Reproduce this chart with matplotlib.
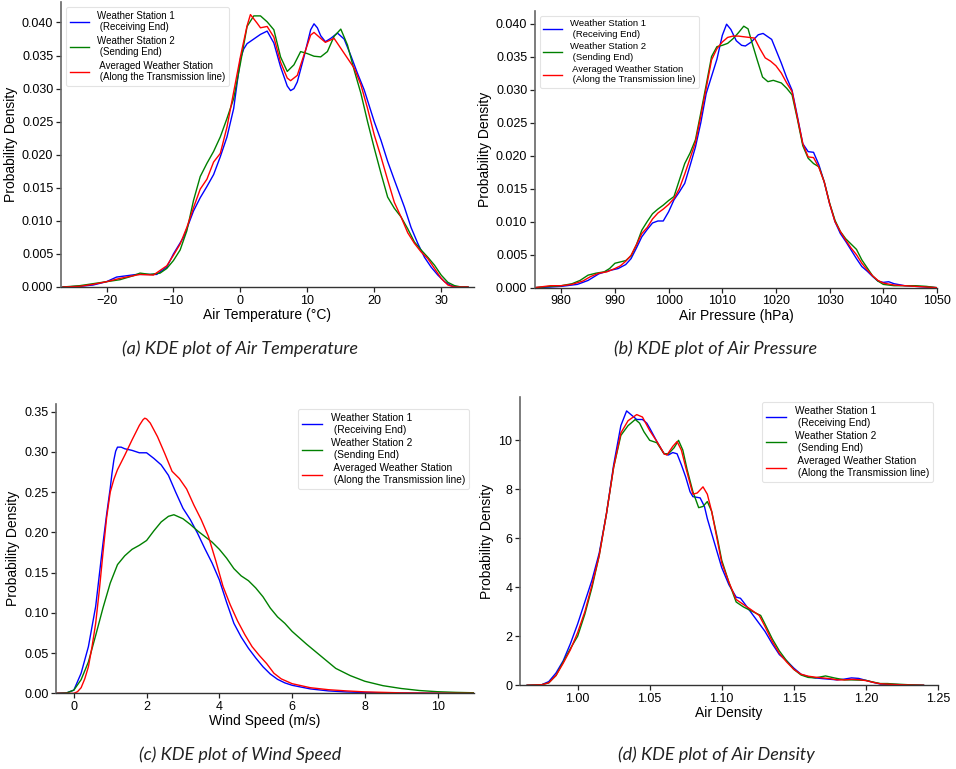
import matplotlib
matplotlib.use('Agg')
import matplotlib.pyplot as plt

plt.rcParams['font.family'] = ['Liberation Sans', 'DejaVu Sans']

# ---- (a) Air temperature ----
temp_ws1_x = [-26.5, -24, -22, -20, -18.5, -17, -15.5, -14, -12.5, -11, -10, -8.5, -7, -6, -5, -4, -3, -2, -1, 0,
              0.5, 1, 2, 3, 4, 5, 6, 7, 7.5, 8, 8.5, 9.5, 10.5, 11, 11.5, 12, 12.7, 13.5, 14.5, 15.5, 16.5, 17.5,
              18.5, 20, 21, 22, 23, 24.5, 25.5, 26.5, 27.5, 28.5, 29.5, 30.5, 31.5, 32.5, 34]
temp_ws1_y = [0, 0.0001, 0.0003, 0.0008, 0.0015, 0.0017, 0.0019, 0.0019, 0.0019, 0.003, 0.005, 0.0075, 0.0115,
              0.0135, 0.0152, 0.017, 0.0197, 0.0227, 0.027, 0.0345, 0.036, 0.0368, 0.0375, 0.0382, 0.0387, 0.0369,
              0.0333, 0.0304, 0.0297, 0.03, 0.031, 0.0348, 0.0389, 0.0398, 0.0392, 0.038, 0.0371, 0.0376, 0.0384,
              0.0375, 0.035, 0.0323, 0.0298, 0.025, 0.0222, 0.019, 0.0162, 0.0121, 0.009, 0.0066, 0.0045, 0.003,
              0.0018, 0.0008, 0.0002, 0, 0]
temp_ws2_x = [-26.5, -24, -22, -20, -18, -16, -15, -13.5, -12, -11, -10, -9, -8, -7, -6, -5, -4, -3, -2, -1,
              0, 1, 2, 3, 4, 5, 6, 7, 8, 9, 10, 11, 12, 13, 14, 15, 16, 17, 18, 19, 20, 21, 22, 23, 24, 25, 26, 27,
              28, 29, 30, 31, 32, 33, 34]
temp_ws2_y = [0, 0.0002, 0.0005, 0.0008, 0.0011, 0.0017, 0.0021, 0.0019, 0.0021, 0.0028, 0.004, 0.0056, 0.0085,
              0.0131, 0.0167, 0.0187, 0.0205, 0.0227, 0.0255, 0.0285, 0.0338, 0.0394, 0.041, 0.041, 0.0401, 0.0389,
              0.0348, 0.0326, 0.0336, 0.0356, 0.0353, 0.0349, 0.0348, 0.0356, 0.0379, 0.039, 0.0366, 0.0328, 0.0293,
              0.025, 0.021, 0.0172, 0.0136, 0.0119, 0.0106, 0.0088, 0.0068, 0.0056, 0.0045, 0.0033, 0.0018, 0.0007,
              0.0002, 0, 0]
temp_avg_x = [-26.5, -24, -22, -20, -18, -16, -15, -13, -11, -10, -9, -8, -7, -6, -5, -4, -3, -2, -1, 0, 1, 1.5,
              2.5, 3, 4, 5, 6, 7, 7.5, 8.5, 9.5, 10.5, 11, 12, 12.7, 14, 15, 16, 17, 18, 19, 20, 21, 22, 23, 24, 25,
              26, 27, 28, 29, 30, 31, 32, 34]
temp_avg_y = [0, 0.0001, 0.0004, 0.0008, 0.0013, 0.0017, 0.0019, 0.0018, 0.0032, 0.0048, 0.0065, 0.009, 0.012,
              0.0148, 0.0163, 0.0189, 0.0202, 0.0242, 0.0295, 0.0348, 0.0395, 0.0412, 0.0399, 0.0392, 0.0394, 0.0378,
              0.034, 0.0316, 0.0312, 0.032, 0.0351, 0.0381, 0.0385, 0.0376, 0.037, 0.0376, 0.0361, 0.0346, 0.0331,
              0.0306, 0.027, 0.023, 0.0197, 0.0162, 0.0128, 0.0106, 0.0082, 0.0066, 0.0053, 0.0043, 0.0028, 0.0013,
              0.0003, 0, 0]

# ---- (b) Air pressure ----
pres_ws1_x = [975, 978, 980, 983, 985, 987, 989, 990.6, 992, 993, 994, 995, 996, 997, 998, 999, 1000, 1001, 1002,
              1003, 1004, 1005, 1006, 1007, 1008, 1009, 1010, 1010.8, 1011.6, 1012.6, 1013.6, 1014.3, 1015.4, 1016.7,
              1017.6, 1019.2, 1020, 1021, 1022, 1023, 1024, 1025, 1026, 1027, 1028, 1029, 1030, 1031, 1032, 1033,
              1034, 1035, 1036, 1037, 1038, 1039, 1040, 1041, 1042, 1044, 1046, 1048, 1050]
pres_ws1_y = [0, 0.0001, 0.0002, 0.0005, 0.0011, 0.0021, 0.0026, 0.0029, 0.0035, 0.0044, 0.006, 0.0077, 0.0088,
              0.0098, 0.0101, 0.0101, 0.0115, 0.0133, 0.0145, 0.0158, 0.0185, 0.0213, 0.025, 0.0294, 0.032, 0.0346,
              0.0382, 0.0399, 0.0391, 0.0374, 0.0367, 0.0366, 0.0372, 0.0383, 0.0385, 0.0376, 0.036, 0.034, 0.0318,
              0.0299, 0.0259, 0.0218, 0.0206, 0.0205, 0.0186, 0.016, 0.0127, 0.01, 0.0082, 0.007, 0.0057, 0.0044,
              0.0032, 0.0025, 0.0017, 0.001, 0.0008, 0.0009, 0.0006, 0.0003, 0.0002, 0.0001, 0]
pres_ws2_x = [975, 978, 980, 982, 983.5, 985, 986.5, 988, 989, 990, 991, 992, 993, 994, 995, 996, 997, 998, 999,
              1000, 1001, 1002, 1003, 1004, 1005, 1006, 1007, 1008, 1009, 1010, 1011, 1012, 1013, 1014, 1014.8,
              1015.5, 1016.5, 1017.5, 1018.5, 1019.5, 1021, 1022, 1023, 1024, 1025, 1026, 1027, 1028, 1029, 1030,
              1031, 1032, 1033, 1034, 1035, 1036, 1037, 1038, 1039, 1040, 1042, 1044, 1046, 1048, 1050]
pres_ws2_y = [0, 0.0002, 0.0003, 0.0006, 0.0011, 0.0019, 0.0022, 0.0024, 0.0029, 0.0037, 0.0039, 0.0041, 0.0048,
              0.0065, 0.0087, 0.01, 0.0112, 0.0119, 0.0125, 0.0132, 0.0138, 0.0163, 0.0188, 0.0204, 0.0224, 0.0265,
              0.0307, 0.035, 0.0365, 0.0367, 0.037, 0.0377, 0.0386, 0.0396, 0.0392, 0.0372, 0.0345, 0.0319, 0.0312,
              0.0314, 0.031, 0.0302, 0.0292, 0.0255, 0.0215, 0.0196, 0.0188, 0.0183, 0.016, 0.0128, 0.0102, 0.0085,
              0.0074, 0.0066, 0.0058, 0.0042, 0.003, 0.0018, 0.001, 0.0005, 0.0003, 0.0003, 0.0003, 0.0002, 0]
pres_avg_x = [975, 978, 980, 982, 984, 985.5, 987, 988.5, 990, 991, 992, 993, 994, 995, 996, 997, 998, 999, 1000,
              1001, 1002, 1003, 1004, 1005, 1006, 1007, 1008, 1009, 1010, 1011, 1012, 1013, 1014, 1015, 1016, 1017,
              1018, 1019, 1020, 1021, 1022, 1023, 1024, 1025, 1026, 1027, 1028, 1029, 1030, 1031, 1032, 1033, 1034,
              1035, 1036, 1037, 1038, 1039, 1040, 1042, 1044, 1046, 1048, 1050]
pres_avg_y = [0, 0.0003, 0.0003, 0.0005, 0.001, 0.0017, 0.0022, 0.0024, 0.0029, 0.0033, 0.004, 0.0049, 0.0065,
              0.0082, 0.0091, 0.0104, 0.0113, 0.0119, 0.0126, 0.0135, 0.015, 0.0172, 0.0196, 0.022, 0.026, 0.0302,
              0.0345, 0.0362, 0.0372, 0.0379, 0.0381, 0.0381, 0.038, 0.0379, 0.0378, 0.0362, 0.0348, 0.0343, 0.0336,
              0.0325, 0.031, 0.0297, 0.0257, 0.0218, 0.0198, 0.0197, 0.0182, 0.016, 0.0127, 0.01, 0.0085, 0.0072,
              0.006, 0.005, 0.0037, 0.0027, 0.0018, 0.0011, 0.0007, 0.0004, 0.0003, 0.0002, 0.0001, 0]

# ---- (c) Wind speed ----
wind_ws1_x = [-0.5, -0.2, 0, 0.2, 0.4, 0.6, 0.8, 0.9, 1.0, 1.05, 1.1, 1.15, 1.2, 1.3, 1.4, 1.6, 1.8, 2.0, 2.2,
              2.4, 2.6, 2.8, 3.0, 3.2, 3.4, 3.6, 3.8, 4.0, 4.2, 4.4, 4.6, 4.8, 5.0, 5.2, 5.4, 5.6, 5.8, 6.0, 6.5,
              7.0, 7.5, 8.0, 9.0, 10.0, 11.0]
wind_ws1_y = [0, 0.0005, 0.004, 0.025, 0.058, 0.108, 0.186, 0.222, 0.255, 0.274, 0.29, 0.301, 0.306, 0.306, 0.304,
              0.302, 0.299, 0.299, 0.292, 0.284, 0.271, 0.25, 0.23, 0.216, 0.199, 0.18, 0.162, 0.141, 0.113, 0.087,
              0.07, 0.056, 0.044, 0.033, 0.024, 0.0174, 0.013, 0.01, 0.0055, 0.003, 0.0017, 0.001, 0.0003, 0.0001, 0]
wind_ws2_x = [-0.5, -0.2, 0, 0.2, 0.4, 0.6, 0.8, 1.0, 1.2, 1.4, 1.6, 1.8, 2.0, 2.2, 2.4, 2.6, 2.75, 3.0, 3.2, 3.4,
              3.6, 3.8, 4.0, 4.2, 4.4, 4.6, 4.8, 5.0, 5.2, 5.4, 5.6, 5.8, 6.0, 6.4, 6.8, 7.2, 7.6, 8.0, 8.5, 9.0,
              9.5, 10.0, 10.5, 11.0]
wind_ws2_y = [0, 0.0005, 0.004, 0.017, 0.039, 0.072, 0.106, 0.137, 0.16, 0.171, 0.179, 0.184, 0.19, 0.202, 0.213,
              0.22, 0.222, 0.217, 0.21, 0.202, 0.195, 0.188, 0.179, 0.168, 0.155, 0.146, 0.14, 0.131, 0.12, 0.106,
              0.095, 0.087, 0.077, 0.061, 0.046, 0.031, 0.022, 0.015, 0.0095, 0.006, 0.0035, 0.002, 0.0012, 0.0007]
wind_avg_x = [-0.5, 0, 0.1, 0.2, 0.3, 0.4, 0.5, 0.6, 0.7, 0.8, 0.9, 1.0, 1.1, 1.2, 1.4, 1.6, 1.8, 1.9, 1.95, 2.0,
              2.1, 2.3, 2.5, 2.7, 2.9, 3.1, 3.3, 3.5, 3.7, 3.9, 4.1, 4.3, 4.5, 4.7, 4.9, 5.1, 5.3, 5.5, 5.7, 6.0,
              6.5, 7.0, 7.5, 8.0, 9.0, 10.0, 11.0]
wind_avg_y = [0, 0, 0.002, 0.007, 0.018, 0.033, 0.058, 0.087, 0.128, 0.174, 0.218, 0.25, 0.266, 0.278, 0.296,
              0.315, 0.333, 0.34, 0.342, 0.341, 0.336, 0.319, 0.298, 0.276, 0.267, 0.254, 0.234, 0.216, 0.195, 0.165,
              0.133, 0.11, 0.09, 0.073, 0.058, 0.047, 0.037, 0.025, 0.018, 0.012, 0.007, 0.0045, 0.003, 0.0018,
              0.0006, 0.0002, 0]

# ---- (d) Air density ----
dens_ws1_x = [0.965, 0.975, 0.98, 0.985, 0.99, 0.995, 1.0, 1.005, 1.01, 1.015, 1.02, 1.025, 1.03, 1.034, 1.038,
              1.041, 1.045, 1.048, 1.05, 1.055, 1.06, 1.063, 1.066, 1.069, 1.072, 1.075, 1.078, 1.08, 1.085, 1.088,
              1.09, 1.095, 1.1, 1.105, 1.11, 1.113, 1.115, 1.12, 1.125, 1.13, 1.135, 1.14, 1.145, 1.15, 1.155, 1.16,
              1.165, 1.17, 1.18, 1.185, 1.19, 1.195, 1.2, 1.205, 1.21, 1.22, 1.23, 1.24]
dens_ws1_y = [0, 0.02, 0.15, 0.5, 1.0, 1.7, 2.5, 3.4, 4.3, 5.4, 7.0, 9.0, 10.6, 11.2, 11.0, 10.85, 10.85, 10.7,
              10.5, 9.95, 9.45, 9.4, 9.5, 9.45, 9.0, 8.5, 7.9, 7.7, 7.65, 7.3, 6.8, 5.8, 4.8, 4.1, 3.6, 3.55, 3.4,
              3.0, 2.6, 2.2, 1.7, 1.25, 1.0, 0.7, 0.45, 0.35, 0.3, 0.27, 0.22, 0.25, 0.3, 0.28, 0.2, 0.12, 0.05,
              0.03, 0.01, 0]
dens_ws2_x = [0.965, 0.975, 0.98, 0.985, 0.99, 0.995, 1.0, 1.005, 1.01, 1.015, 1.02, 1.025, 1.03, 1.035, 1.04,
              1.043, 1.046, 1.05, 1.055, 1.06, 1.063, 1.067, 1.07, 1.073, 1.076, 1.08, 1.084, 1.087, 1.09, 1.093,
              1.097, 1.1, 1.105, 1.11, 1.115, 1.12, 1.127, 1.13, 1.135, 1.14, 1.145, 1.15, 1.155, 1.16, 1.165,
              1.172, 1.178, 1.185, 1.19, 1.2, 1.205, 1.21, 1.215, 1.22, 1.23, 1.24]
dens_ws2_y = [0, 0.02, 0.1, 0.4, 0.95, 1.5, 2.0, 2.9, 4.0, 5.3, 7.0, 8.9, 10.2, 10.6, 10.85, 10.7, 10.35, 10.0,
              9.9, 9.45, 9.45, 9.7, 10.0, 9.6, 8.8, 7.9, 7.25, 7.3, 7.5, 7.1, 6.0, 5.1, 4.2, 3.4, 3.2, 3.05, 2.85,
              2.5, 1.9, 1.4, 1.0, 0.65, 0.42, 0.32, 0.3, 0.38, 0.3, 0.22, 0.22, 0.2, 0.13, 0.07, 0.07, 0.05, 0.02, 0]
dens_avg_x = [0.965, 0.975, 0.98, 0.985, 0.99, 0.995, 1.0, 1.005, 1.01, 1.015, 1.02, 1.025, 1.03, 1.035, 1.041,
              1.045, 1.05, 1.055, 1.06, 1.062, 1.066, 1.069, 1.072, 1.075, 1.08, 1.083, 1.087, 1.09, 1.093, 1.096,
              1.1, 1.105, 1.11, 1.115, 1.12, 1.126, 1.13, 1.135, 1.14, 1.145, 1.15, 1.155, 1.16, 1.165, 1.17, 1.175,
              1.18, 1.185, 1.19, 1.195, 1.2, 1.205, 1.21, 1.22, 1.23, 1.24]
dens_avg_y = [0, 0.02, 0.1, 0.4, 0.9, 1.45, 2.15, 3.0, 4.1, 5.3, 7.0, 8.9, 10.3, 10.8, 11.05, 10.95, 10.4, 9.95,
              9.45, 9.4, 9.75, 9.95, 9.6, 8.9, 7.8, 7.85, 8.1, 7.8, 7.1, 6.2, 5.0, 4.2, 3.5, 3.3, 3.1, 2.85, 2.4,
              1.8, 1.3, 0.95, 0.65, 0.45, 0.37, 0.33, 0.3, 0.27, 0.22, 0.22, 0.24, 0.23, 0.19, 0.12, 0.06, 0.03,
              0.01, 0]

labels = ['Weather Station 1\n (Receiving End)',
          'Weather Station 2\n (Sending End)',
          ' Averaged Weather Station\n (Along the Transmission line)']
colors = ['blue', 'green', 'red']

fig = plt.figure(figsize=(9.56, 7.69), dpi=100)

panels = [
    # rect, curves, xlabel, xlim, ylim, xticks, yticks, y format, legend loc, legend size, caption, caption pos
    ([0.0638, 0.6268, 0.432, 0.3706],
     [(temp_ws1_x, temp_ws1_y), (temp_ws2_x, temp_ws2_y), (temp_avg_x, temp_avg_y)],
     'Air Temperature (°C)', (-26.8, 34.9), (0, 0.0431), [-20, -10, 0, 10, 20, 30],
     [0, 0.005, 0.01, 0.015, 0.02, 0.025, 0.03, 0.035, 0.04], '{:.3f}', 'upper left', 7,
     '(a) KDE plot of Air Temperature', (240, 349)),
    ([0.5596, 0.6259, 0.4205, 0.3598],
     [(pres_ws1_x, pres_ws1_y), (pres_ws2_x, pres_ws2_y), (pres_avg_x, pres_avg_y)],
     'Air Pressure (hPa)', (975.1, 1050), (0, 0.0419), [980, 990, 1000, 1010, 1020, 1030, 1040, 1050],
     [0, 0.005, 0.01, 0.015, 0.02, 0.025, 0.03, 0.035, 0.04], '{:.3f}', 'upper left', 6.8,
     '(b) KDE plot of Air Pressure', (716, 349)),
    ([0.0586, 0.0984, 0.4372, 0.3762],
     [(wind_ws1_x, wind_ws1_y), (wind_ws2_x, wind_ws2_y), (wind_avg_x, wind_avg_y)],
     'Wind Speed (m/s)', (-0.49, 11.0), (0, 0.3596), [0, 2, 4, 6, 8, 10],
     [0, 0.05, 0.1, 0.15, 0.2, 0.25, 0.3, 0.35], '{:.2f}', 'upper right', 7.3,
     '(c) KDE plot of Wind Speed', (240, 755)),
    ([0.5439, 0.1089, 0.4372, 0.3749],
     [(dens_ws1_x, dens_ws1_y), (dens_ws2_x, dens_ws2_y), (dens_avg_x, dens_avg_y)],
     'Air Density', (0.96, 1.25), (0, 11.77), [1.00, 1.05, 1.10, 1.15, 1.20, 1.25],
     [0, 2, 4, 6, 8, 10], '{:g}', 'upper right', 7.3,
     '(d) KDE plot of Air Density', (716, 755)),
]

for i, (rect, curves, xlabel, xlim, ylim, xticks, yticks, yfmt, loc, lsize, caption, cpos) in enumerate(panels):
    ax = fig.add_axes(rect)
    for (xs, ys), c, lab in zip(curves, colors, labels):
        ax.plot(xs, ys, color=c, lw=1.0, label=lab, solid_joinstyle='round')
    ax.set_xlim(*xlim)
    ax.set_ylim(*ylim)
    ax.set_xticks(xticks)
    if i == 3:
        ax.set_xticklabels(['{:.2f}'.format(t) for t in xticks])
    else:
        ax.set_xticklabels([str(t).replace('-', '\u2212') for t in xticks])
    ax.set_yticks(yticks)
    ax.set_yticklabels([yfmt.format(t) for t in yticks])
    ax.tick_params(labelsize=9, length=3.5, width=0.9, color='#222222', direction='out', pad=2)
    ax.set_xlabel(xlabel, fontsize=10, labelpad=1)
    ax.set_ylabel('Probability Density', fontsize=10, labelpad=3)
    ax.spines['top'].set_visible(False)
    ax.spines['right'].set_visible(False)
    ax.spines['left'].set_color('#666666')
    ax.spines['left'].set_linewidth(1.2)
    ax.spines['bottom'].set_color('#333333')
    ax.spines['bottom'].set_linewidth(1.0)
    leg = ax.legend(loc=loc, fontsize=lsize, labelspacing=0.35, borderpad=0.4,
                    handlelength=2.0, handletextpad=0.8, fancybox=True)
    leg.get_frame().set_edgecolor('#dddddd')
    leg.get_frame().set_linewidth(0.8)
    fig.text(cpos[0] / 956, 1 - cpos[1] / 769, caption, ha='center', va='center',
             fontsize=13, style='italic', family=['Lato', 'DejaVu Sans'], color='#222222')

fig.savefig('out.png', dpi=100)
